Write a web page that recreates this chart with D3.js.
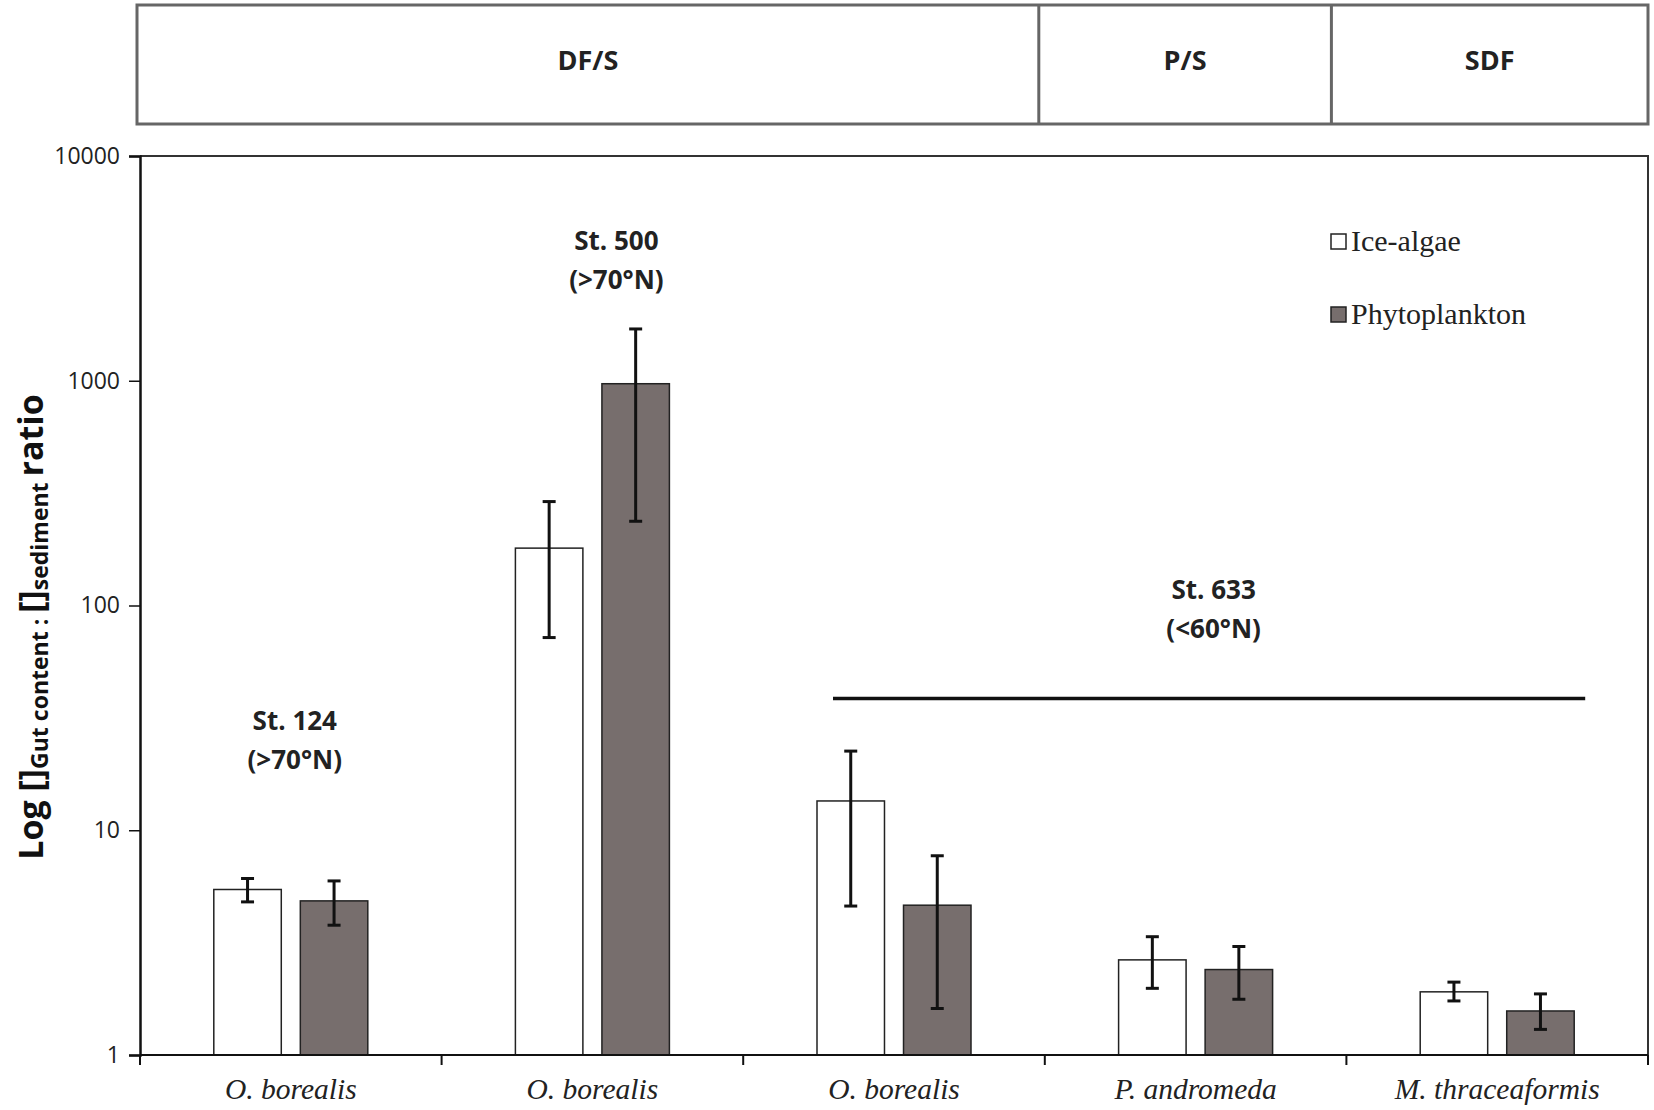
<!DOCTYPE html>
<html>
<head>
<meta charset="utf-8">
<script src="https://cdn.jsdelivr.net/npm/d3@7"></script>
<style>
  body { margin: 0; background: #fff; }
  svg { display: block; }
  .sans { font-family: "Open Sans", "Noto Sans", sans-serif; }
  .serif { font-family: "Liberation Serif", "DejaVu Serif", serif; }
</style>
</head>
<body>
<div id="chart"></div>
<script>
// categories (species) along the x axis
var species = ["O. borealis", "O. borealis", "O. borealis", "P. andromeda", "M. thraceaformis"];
var series = ["Ice-algae", "Phytoplankton"];

// mean ratio and error bar ends
var iceMean  = [5.45, 180, 13.5, 2.65, 1.91];
var iceLow   = [4.8, 72, 4.6, 1.98, 1.74];
var iceHigh  = [6.1, 290, 22.5, 3.36, 2.11];
var phyMean  = [4.85, 970, 4.64, 2.40, 1.57];
var phyLow   = [3.78, 237, 1.61, 1.77, 1.30];
var phyHigh  = [5.95, 1700, 7.7, 3.04, 1.87];

var yTicks = [1, 10, 100, 1000, 10000];

// feeding group header
var groups = ["DF/S", "P/S", "SDF"];
var groupSpan = [3, 1, 1];   // number of categories each group covers

// station annotations
var stations = ["St. 124", "St. 500", "St. 633"];
var stationLat = ["(>70°N)", "(>70°N)", "(<60°N)"];
var stationCat = [0, 1, 3];
var stationValue = [28, 3800, 107];

var W = 1654, H = 1110;
var margin = {top: 156, right: 6, bottom: 55, left: 140};

var svg = d3.select("#chart").append("svg")
    .attr("width", W)
    .attr("height", H);

var x0 = d3.scaleBand()
    .domain(d3.range(species.length))
    .range([margin.left, W - margin.right]);

var x1 = d3.scaleBand()
    .domain(series)
    .range([-77, 77])
    .paddingInner(0.22);

var y = d3.scaleLog()
    .domain([1, 10000])
    .range([H - margin.bottom, margin.top]);

var colors = {"Ice-algae": "#ffffff", "Phytoplankton": "#776e6d"};

var rows = species.map(function (s, i) {
    return [
        {cat: i, key: "Ice-algae", v: iceMean[i], lo: iceLow[i], hi: iceHigh[i]},
        {cat: i, key: "Phytoplankton", v: phyMean[i], lo: phyLow[i], hi: phyHigh[i]}
    ];
});
var bars = d3.merge(rows);

function cx(i) { return x0(i) + x0.bandwidth() / 2; }

// header boxes (dividers sit a little left of the category boundaries)
var hdrTop = 5, hdrBottom = 124, hdrLeft = 137;
var dividerShift = [0, -6, -15];
var cum = 0;
var groupBounds = groupSpan.map(function (n) {
    var a = cum; cum += n;
    return [a, cum];
});
var hdr = svg.append("g");
hdr.append("rect")
    .attr("x", hdrLeft)
    .attr("y", hdrTop)
    .attr("width", W - margin.right - hdrLeft)
    .attr("height", hdrBottom - hdrTop)
    .attr("fill", "none")
    .attr("stroke", "#666")
    .attr("stroke-width", 3);

groupBounds.forEach(function (b, i) {
    var left = i === 0 ? hdrLeft : x0(b[0]) + dividerShift[i];
    var right = b[1] < species.length ? x0(b[1]) + dividerShift[i + 1] : W - margin.right;
    if (i > 0) {
        hdr.append("line")
            .attr("x1", left).attr("x2", left)
            .attr("y1", hdrTop).attr("y2", hdrBottom)
            .attr("stroke", "#666").attr("stroke-width", 3);
    }
    hdr.append("text")
        .attr("class", "sans")
        .attr("x", (left + right) / 2)
        .attr("y", 70)
        .attr("text-anchor", "middle")
        .attr("font-size", 27)
        .attr("font-weight", "bold")
        .attr("fill", "#222")
        .text(groups[i]);
});

// frame (top and right)
svg.append("path")
    .attr("d", "M" + margin.left + "," + y(10000) + "H" + (W - margin.right) + "V" + y(1))
    .attr("fill", "none")
    .attr("stroke", "#333")
    .attr("stroke-width", 2);

// bars
svg.append("g").selectAll("rect")
    .data(bars)
    .enter()
    .append("rect")
    .attr("x", function (d) { return cx(d.cat) + x1(d.key); })
    .attr("y", function (d) { return y(d.v); })
    .attr("width", x1.bandwidth())
    .attr("height", function (d) { return y(1) - y(d.v); })
    .attr("fill", function (d) { return colors[d.key]; })
    .attr("stroke", "#222")
    .attr("stroke-width", 1.5);

// error bars
var eb = svg.append("g").selectAll("g")
    .data(bars)
    .enter()
    .append("g")
    .attr("stroke", "#111")
    .attr("stroke-width", 3);
eb.append("line")
    .attr("x1", function (d) { return cx(d.cat) + x1(d.key) + x1.bandwidth() / 2; })
    .attr("x2", function (d) { return cx(d.cat) + x1(d.key) + x1.bandwidth() / 2; })
    .attr("y1", function (d) { return y(d.lo); })
    .attr("y2", function (d) { return y(d.hi); });
["lo", "hi"].forEach(function (k) {
    eb.append("line")
        .attr("x1", function (d) { return cx(d.cat) + x1(d.key) + x1.bandwidth() / 2 - 6.5; })
        .attr("x2", function (d) { return cx(d.cat) + x1(d.key) + x1.bandwidth() / 2 + 6.5; })
        .attr("y1", function (d) { return y(d[k]); })
        .attr("y2", function (d) { return y(d[k]); });
});

// y axis
var yAxis = svg.append("g")
    .attr("transform", "translate(" + margin.left + ",0)")
    .call(d3.axisLeft(y).tickValues(yTicks).tickFormat(d3.format("d")).tickSize(11).tickPadding(9));
yAxis.select(".domain").attr("stroke", "#111").attr("stroke-width", 2.5);
yAxis.selectAll(".tick line").attr("stroke", "#111").attr("stroke-width", 1.5);
yAxis.selectAll(".tick text")
    .attr("class", "sans")
    .attr("font-size", 23)
    .attr("fill", "#222");

// x axis with ticks at category boundaries
var xAxis = svg.append("g")
    .attr("transform", "translate(0," + y(1) + ")");
xAxis.append("line")
    .attr("x1", margin.left).attr("x2", W - margin.right)
    .attr("stroke", "#111").attr("stroke-width", 2);
xAxis.selectAll(".bt")
    .data(d3.range(species.length + 1))
    .enter()
    .append("line")
    .attr("x1", function (i) { return i < species.length ? x0(i) : W - margin.right; })
    .attr("x2", function (i) { return i < species.length ? x0(i) : W - margin.right; })
    .attr("y1", 0).attr("y2", 10)
    .attr("stroke", "#111").attr("stroke-width", 2);
xAxis.selectAll(".lab")
    .data(species)
    .enter()
    .append("text")
    .attr("class", "serif")
    .attr("x", function (d, i) { return cx(i); })
    .attr("y", 44)
    .attr("text-anchor", "middle")
    .attr("font-size", 29.5)
    .attr("font-style", "italic")
    .attr("fill", "#222")
    .text(function (d) { return d; });

// y axis title with subscripts
var title = svg.append("text")
    .attr("class", "sans")
    .attr("transform", "translate(43," + 627 + ") rotate(-90)")
    .attr("text-anchor", "middle")
    .attr("font-weight", "bold")
    .attr("font-size", 34)
    .attr("fill", "#111");
title.append("tspan").text("Log []");
title.append("tspan").attr("font-size", 23).attr("dy", 5).text("Gut content : ");
title.append("tspan").attr("dy", -5).text("[]");
title.append("tspan").attr("font-size", 23).attr("dy", 5).text("sediment ");
title.append("tspan").attr("dy", -5).text("ratio");

// station annotations
var stationDx = [4, 24, 18];
var st = svg.append("g").attr("class", "sans")
    .attr("font-weight", "bold")
    .attr("font-size", 26)
    .attr("fill", "#222")
    .attr("text-anchor", "middle");
stations.forEach(function (s, i) {
    var tx = cx(stationCat[i]) + stationDx[i];
    var ty = y(stationValue[i]);
    st.append("text").attr("x", tx).attr("y", ty).text(s);
    st.append("text").attr("x", tx).attr("y", ty + 39).text(stationLat[i]);
});

// St. 633 grouping line
svg.append("line")
    .attr("x1", cx(2) + x1("Ice-algae") + 16)
    .attr("x2", cx(4) + x1("Phytoplankton") + x1.bandwidth() + 11)
    .attr("y1", y(38.6)).attr("y2", y(38.6))
    .attr("stroke", "#111")
    .attr("stroke-width", 3.5);

// legend
var lg = svg.append("g").attr("transform", "translate(1331,242)");
series.forEach(function (s, i) {
    var g = lg.append("g").attr("transform", "translate(0," + i * 73 + ")");
    g.append("rect")
        .attr("x", 0).attr("y", -8)
        .attr("width", 15).attr("height", 15)
        .attr("fill", colors[s])
        .attr("stroke", "#222")
        .attr("stroke-width", 1.5);
    g.append("text")
        .attr("class", "serif")
        .attr("x", 20).attr("y", 9)
        .attr("font-size", 30)
        .attr("fill", "#222")
        .text(s);
});
</script>
</body>
</html>
